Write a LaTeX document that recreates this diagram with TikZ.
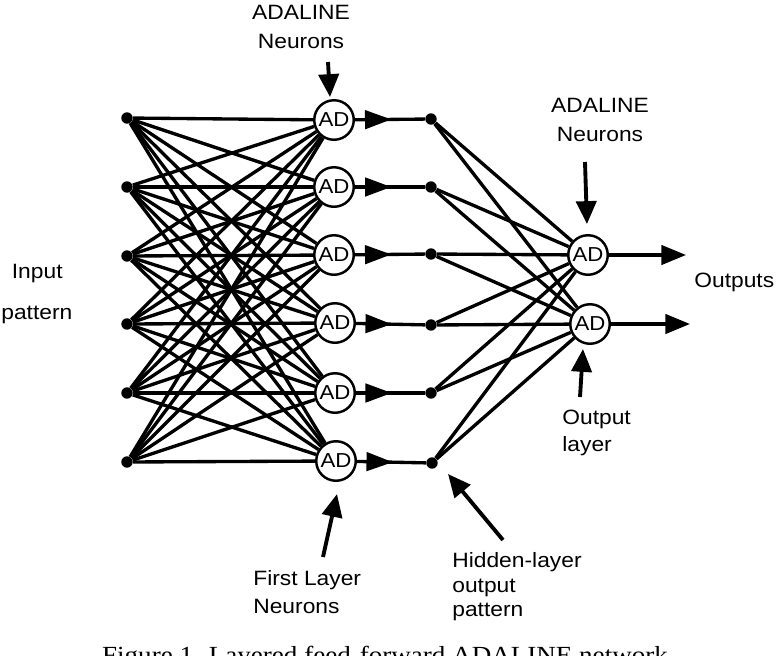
\documentclass[tikz,border=0pt]{standalone}
\usepackage{fontspec}
\setmainfont{Liberation Sans}[FakeStretch=1.1]
\newfontfamily\capfont{Liberation Serif}[FakeStretch=1.1]
\usepackage{tikz}
\usetikzlibrary{arrows.meta, decorations.markings}

\begin{document}
\begin{tikzpicture}[
  x=0.02cm,
  y=-0.02cm,
  font=\fontsize{11.8}{14}\selectfont,
  inputdot/.style={
    circle,
    fill=black,
    inner sep=0pt,
    minimum size=6.5pt
  },
  adnode/.style={
    circle,
    draw=black,
    fill=white,
    line width=1.4pt,
    minimum size=22.5pt,
    inner sep=0pt,
    font=\fontsize{11.5}{11.5}\selectfont
  },
  link/.style={
    line width=1.9pt,
    draw=black
  },
  midarrow/.style={
    link,
    decoration={markings,
      mark=at position 0.52 with {\arrow{Triangle[length=15pt,width=10.5pt]}}},
    postaction={decorate}
  },
  outarrow/.style={
    link,
    -{Triangle[length=14pt,width=11pt]}
  },
  pointer/.style={
    line width=2.2pt,
    -{Triangle[length=13pt,width=11.5pt]}
  },
  tagtext/.style={
    align=left,
    anchor=west,
    inner sep=0pt
  }
]

\useasboundingbox (0,0) rectangle (778,656);

% input pattern
\node[inputdot] (in1) at (127,118) {};
\node[inputdot] (in2) at (127,187) {};
\node[inputdot] (in3) at (127,256) {};
\node[inputdot] (in4) at (127,324) {};
\node[inputdot] (in5) at (127,393) {};
\node[inputdot] (in6) at (127,462) {};

% first layer
\node[adnode] (ad1) at (334,120) {AD};
\node[adnode] (ad2) at (334,187) {AD};
\node[adnode] (ad3) at (334,255) {AD};
\node[adnode] (ad4) at (335,323) {AD};
\node[adnode] (ad5) at (335,393) {AD};
\node[adnode] (ad6) at (336,461) {AD};

% hidden-layer outputs
\node[inputdot] (hid1) at (431,119) {};
\node[inputdot] (hid2) at (431,187) {};
\node[inputdot] (hid3) at (431,254) {};
\node[inputdot] (hid4) at (431,325) {};
\node[inputdot] (hid5) at (431,393) {};
\node[inputdot] (hid6) at (432,463) {};

% output layer
\node[adnode] (adout1) at (588,255) {AD};
\node[adnode] (adout2) at (590,324) {AD};
\coordinate (res1) at (686,255);
\coordinate (res2) at (690,324);

\foreach \i in {1,...,6} {
  \foreach \j in {1,...,6} {
    \draw[link] (in\i) -- (ad\j);
  }
  \draw[midarrow] (ad\i) -- (hid\i);
  \draw[link] (hid\i) -- (adout1);
  \draw[link] (hid\i) -- (adout2);
}

\draw[outarrow] (adout1) -- (res1);
\draw[outarrow] (adout2) -- (res2);

% labels
\node[align=center] (topneurons) at (301,27) {ADALINE\\[3pt]Neurons};
\node[align=center] (rightneurons) at (600,120) {ADALINE\\[3pt]Neurons};
\node[tagtext] (inputtag) at (1,294) {\hspace*{6pt}Input\\[9.5pt]pattern};
\node[tagtext] (outputstag) at (694,282) {Outputs};
\node[tagtext] (outlayertag) at (562,433) {Output\\[1pt]layer};
\node[tagtext] (firsttag) at (253,592) {First Layer\\[2pt]Neurons};
\node[tagtext] (hiddentag) at (452,587) {Hidden-layer\\[0pt]output\\[0pt]pattern};
\node[font=\capfont\fontsize{14}{16}\selectfont, anchor=base] (caption) at (385,663)
  {Figure 1. Layered feed-forward ADALINE network};

% pointers
\coordinate (ptrA) at (328,62);
\coordinate (tipA) at (330,97);
\coordinate (ptrB) at (585,162);
\coordinate (tipB) at (587,224);
\coordinate (ptrC) at (580,397);
\coordinate (tipC) at (583,349);
\coordinate (ptrD) at (323,557);
\coordinate (tipD) at (337,494);
\coordinate (ptrE) at (503,540);
\coordinate (tipE) at (448,474);

\draw[pointer] (ptrA) -- (tipA);
\draw[pointer] (ptrB) -- (tipB);
\draw[pointer] (ptrC) -- (tipC);
\draw[pointer] (ptrD) -- (tipD);
\draw[pointer] (ptrE) -- (tipE);

\end{tikzpicture}
\end{document}
